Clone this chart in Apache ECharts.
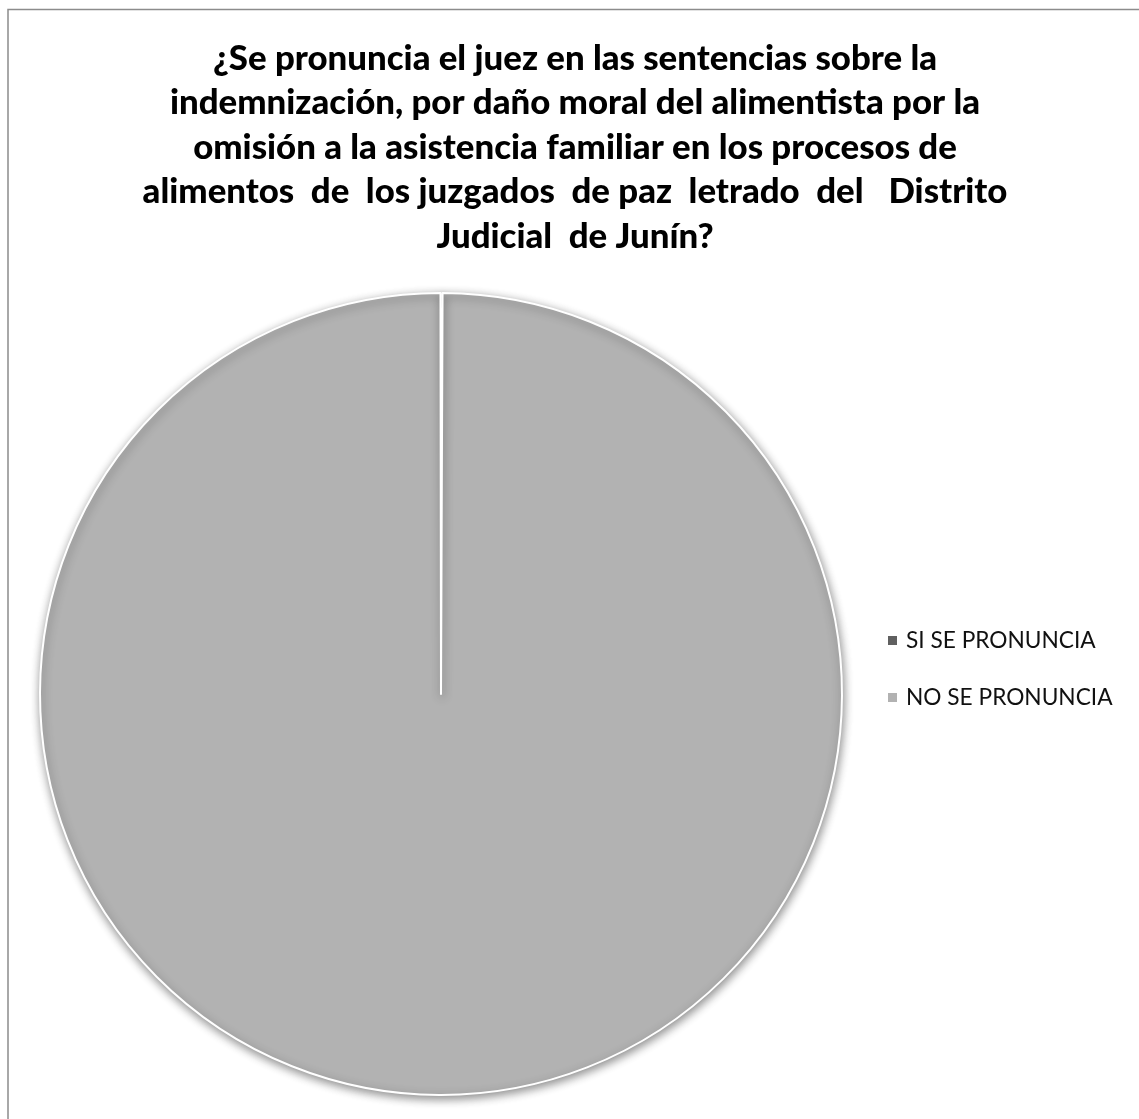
<!DOCTYPE html>
<html>
<head>
<meta charset="utf-8">
<script src="https://cdn.jsdelivr.net/npm/echarts@6/dist/echarts.min.js"></script>
<style>
  html, body { margin: 0; padding: 0; background: #ffffff; }
  #chart { width: 1139px; height: 1119px; }
</style>
</head>
<body>
<div id="chart"></div>
<script>
const titleLines = [
  '¿Se pronuncia el juez en las sentencias sobre la',
  'indemnización, por daño moral del alimentista por la',
  'omisión a la asistencia familiar en los procesos de',
  'alimentos  de  los juzgados  de paz  letrado  del   Distrito',
  'Judicial  de Junín?'
];
const categories = ['SI SE PRONUNCIA', 'NO SE PRONUNCIA'];
const values = [0, 100];
const colors = ['#606060', '#b2b2b2'];

const chart = echarts.init(document.getElementById('chart'));
chart.setOption({
  backgroundColor: '#ffffff',
  animation: false,
  title: {
    text: titleLines.join('\n'),
    left: 575,
    top: 36,
    padding: 0,
    textAlign: 'center',
    textStyle: {
      fontFamily: 'Lato',
      fontWeight: 900,
      fontSize: 34.8,
      lineHeight: 44.6,
      color: '#000000'
    }
  },
  legend: {
    orient: 'vertical',
    left: 886,
    top: 628,
    padding: 0,
    itemWidth: 11,
    itemHeight: 11,
    itemGap: 32,
    icon: 'rect',
    selectedMode: false,
    data: categories,
    textStyle: {
      fontFamily: 'Lato',
      fontSize: 22.7,
      lineHeight: 25,
      color: '#111111',
      padding: [0, 0, 0, 3]
    }
  },
  graphic: [{
    type: 'rect',
    silent: true,
    shape: { x: 8, y: 9.5, width: 1300, height: 1300 },
    style: { fill: 'none', stroke: '#8c8c8c', lineWidth: 1.5 }
  }],
  series: [{
    type: 'pie',
    center: [441, 694],
    radius: [0, 401],
    startAngle: 90,
    clockwise: true,
    padAngle: 0.15,
    label: { show: false },
    labelLine: { show: false },
    emphasis: { disabled: true },
    itemStyle: {
      borderColor: '#ffffff',
      borderWidth: 2,
      shadowBlur: 10,
      shadowColor: 'rgba(0,0,0,0.45)',
      shadowOffsetX: 1,
      shadowOffsetY: 3
    },
    data: categories.map((c, i) => ({ name: c, value: values[i], itemStyle: { color: colors[i] } }))
  }]
});
</script>
</body>
</html>
